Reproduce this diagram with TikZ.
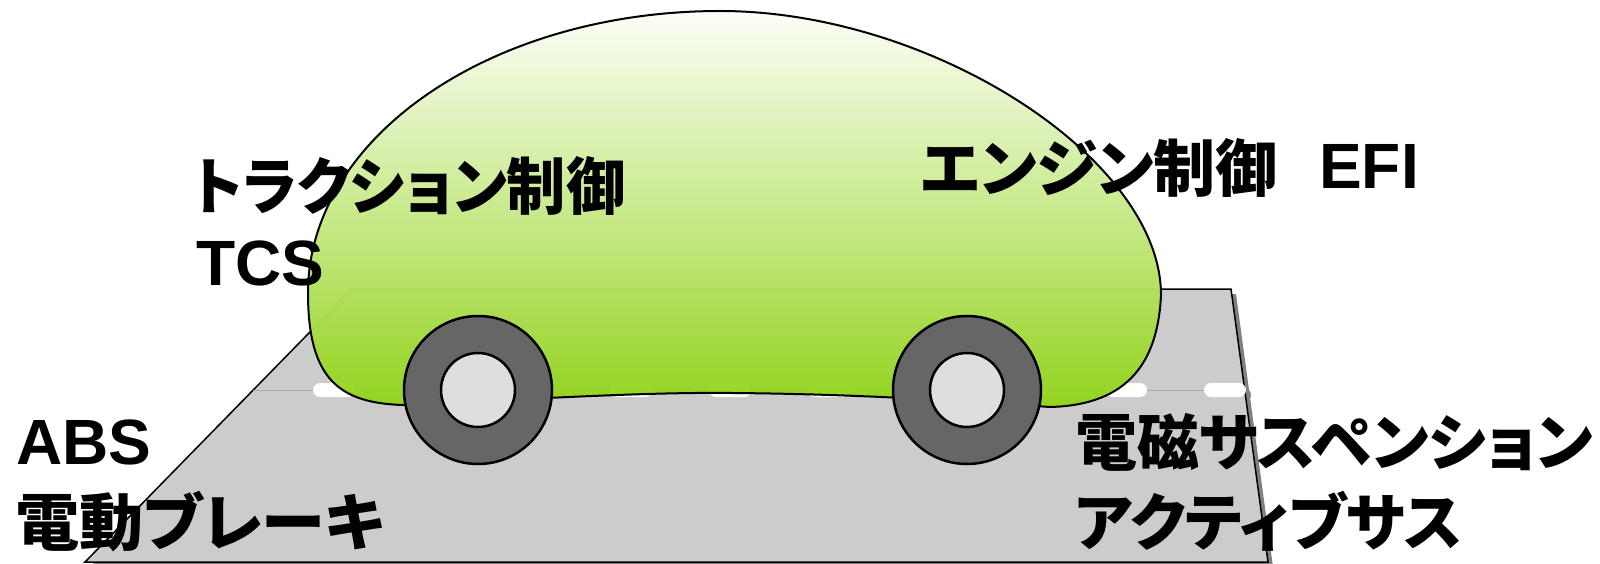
\documentclass[tikz,border=0pt]{standalone}
\usepackage{fontspec}
\newfontfamily\jpfont{Noto Sans CJK JP}[RawFeature=+palt]
\newfontfamily\latfont{Liberation Sans}
\usetikzlibrary{calc}

\definecolor{roadgray}{HTML}{CCCCCC}
\definecolor{roadshadow}{HTML}{808080}
\definecolor{bodygreen}{HTML}{92D41A}
\definecolor{bodytop}{HTML}{FCFEF8}
\definecolor{tyre}{HTML}{666666}
\definecolor{hubgray}{HTML}{DEDEDE}
\definecolor{laneline}{HTML}{AAAAAA}

\tikzset{
  jplabel/.style={font=\jpfont\bfseries\fontsize{62}{68}\selectfont, inner sep=0pt, anchor=base west},
  latlabel/.style={font=\latfont\bfseries\fontsize{64}{70}\selectfont, inner sep=0pt, anchor=base west},
  lanedash/.style={rounded corners=7pt},
  tyrestyle/.style={circle, draw=black, line width=2.5pt, fill=tyre, minimum size=148pt, inner sep=0pt},
  hubstyle/.style={circle, draw=black, line width=2.5pt, fill=hubgray, minimum size=74pt, inner sep=0pt},
  roadedge/.style={draw=black, line width=1.5pt, fill=roadgray},
}

\begin{document}
\begin{tikzpicture}[x=1pt,y=-1pt]
\useasboundingbox (0,0) rectangle (1600,564);

% road slab: drop shadow first
\begin{scope}[shift={(5,5)}]
  \fill[roadshadow] (352,289) -- (1231,289) -- (1268,562) -- (85,562) -- cycle;
  \foreach \k in {0,...,9}
    \fill[roadshadow, lanedash] ({313+99*\k},383) rectangle ++(42,14);
\end{scope}

% road surface
\path[roadedge] (352,289) -- (1231,289) -- (1268,562) -- (85,562) -- cycle;

% lane marking
\draw[laneline, line width=1pt] (253.2,390) -- (1244.7,390);
\foreach \k in {0,...,9}
  \fill[white, lanedash] ({313+99*\k},383) rectangle ++(42,14);

% car body, faintly see-through
\path[draw=black, line width=2pt, top color=bodytop, bottom color=bodygreen, fill opacity=0.97]
  (403,405) .. controls (550,398) and (650,392) .. (733,393)
  .. controls (850,394) and (950,400) .. (1050,407)
  .. controls (1130,405) and (1158,360) .. (1161,295)
  .. controls (1161,159) and (932,11) .. (720,11)
  .. controls (492,11) and (308,137) .. (308,293)
  .. controls (308,380) and (340,403) .. (403,405) -- cycle;

% wheels
\node[tyrestyle] (wheelL) at (478,390) {};
\node[hubstyle]  (hubL)   at (wheelL.center) {};
\node[tyrestyle] (wheelR) at (967,390) {};
\node[hubstyle]  (hubR)   at (wheelR.center) {};

% labels
\node[jplabel]  (tcsjp)  at (193,210) {\scalebox{0.955}[1]{トラクション制御}};
\node[latlabel] (tcs)    at (196,285) {TCS};
\node[jplabel]  (efijp)  at (920,192) {エンジン制御};
\node[latlabel] (efi)    at (1319,189) {EFI};
\node[latlabel] (abs)    at (16,464) {ABS};
\node[jplabel]  (absjp)  at (15,545) {\scalebox{1.035}[1]{電動ブレーキ}};
\node[jplabel]  (susjp)  at (1075,465) {電磁サスペンション};
\node[jplabel]  (actjp)  at (1075,545) {アクティブサス};
\end{tikzpicture}
\end{document}
